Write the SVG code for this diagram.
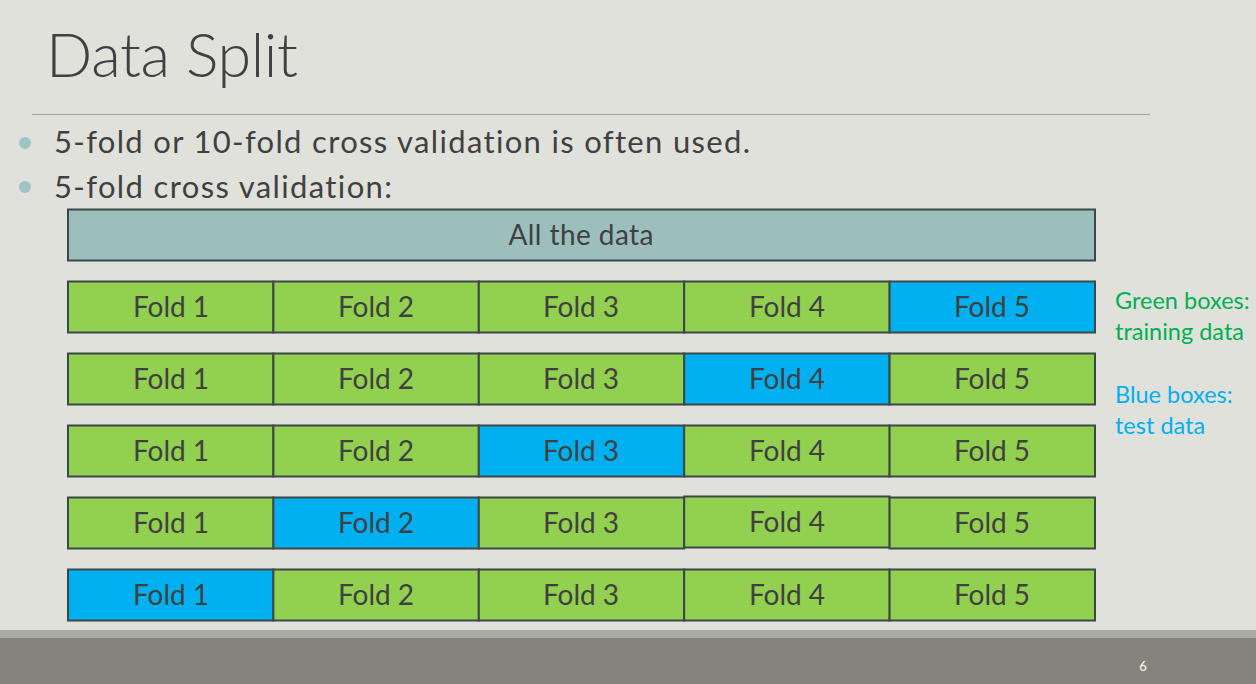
<svg xmlns="http://www.w3.org/2000/svg" width="1256" height="684" viewBox="0 0 1256 684">
<style>
text{font-variant-ligatures:none}
.t{font-family:Lato,"Open Sans","Noto Sans",sans-serif;fill:#404040}
.b{stroke:#3c4848;stroke-width:2}
.g{fill:#92d050}
.u{fill:#00b0f0}
.f{font-size:28px;text-anchor:middle}
</style>
<rect width="1256" height="684" fill="#e1e1dc"/>
<rect x="0" y="630" width="1256" height="8" fill="#aaaba5"/>
<rect x="0" y="638" width="1256" height="46" fill="#84847a"/>
<text x="1143" y="671" font-family="Lato,sans-serif" font-size="13" fill="#ffffff" text-anchor="middle">6</text>
<g id="title"><text class="t" x="46" y="77" font-size="61" font-weight="300" textLength="252">Data Split</text></g>
<line x1="32" y1="114.5" x2="1150" y2="114.5" stroke="#a2a39e" stroke-width="1.2"/>
<g id="bullets">
<circle cx="25" cy="143" r="6" fill="#9ec4c4"/>
<circle cx="25" cy="187" r="6" fill="#9ec4c4"/>
<text class="t" x="54" y="153" font-size="31" textLength="696">5-fold or 10-fold cross validation is often used.</text>
<text class="t" x="54" y="198" font-size="31" textLength="338">5-fold cross validation:</text>
</g>
<g id="all-data">
<rect class="b" x="68" y="209.5" width="1027" height="51" fill="#9cbfbd"/>
<text class="t f" x="581" y="245" font-size="28.5" textLength="145">All the data</text>
</g>
<g id="row1">
<rect class="b g" x="68" y="281.5" width="205.4" height="51"/>
<rect class="b g" x="273.4" y="281.5" width="205.4" height="51"/>
<rect class="b g" x="478.8" y="281.5" width="205.4" height="51"/>
<rect class="b g" x="684.2" y="281.5" width="205.4" height="51"/>
<rect class="b u" x="889.6" y="281.5" width="205.4" height="51"/>
<text class="t f" x="171" y="317">Fold 1</text><text class="t f" x="376" y="317">Fold 2</text><text class="t f" x="581" y="317">Fold 3</text><text class="t f" x="787" y="317">Fold 4</text><text class="t f" x="992" y="317">Fold 5</text>
</g>
<g id="row2">
<rect class="b g" x="68" y="353.5" width="205.4" height="51"/>
<rect class="b g" x="273.4" y="353.5" width="205.4" height="51"/>
<rect class="b g" x="478.8" y="353.5" width="205.4" height="51"/>
<rect class="b u" x="684.2" y="353.5" width="205.4" height="51"/>
<rect class="b g" x="889.6" y="353.5" width="205.4" height="51"/>
<text class="t f" x="171" y="389">Fold 1</text><text class="t f" x="376" y="389">Fold 2</text><text class="t f" x="581" y="389">Fold 3</text><text class="t f" x="787" y="389">Fold 4</text><text class="t f" x="992" y="389">Fold 5</text>
</g>
<g id="row3">
<rect class="b g" x="68" y="425.5" width="205.4" height="51"/>
<rect class="b g" x="273.4" y="425.5" width="205.4" height="51"/>
<rect class="b u" x="478.8" y="425.5" width="205.4" height="51"/>
<rect class="b g" x="684.2" y="425.5" width="205.4" height="51"/>
<rect class="b g" x="889.6" y="425.5" width="205.4" height="51"/>
<text class="t f" x="171" y="461">Fold 1</text><text class="t f" x="376" y="461">Fold 2</text><text class="t f" x="581" y="461">Fold 3</text><text class="t f" x="787" y="461">Fold 4</text><text class="t f" x="992" y="461">Fold 5</text>
</g>
<g id="row4">
<rect class="b g" x="68" y="497.5" width="205.4" height="51"/>
<rect class="b u" x="273.4" y="497.5" width="205.4" height="51"/>
<rect class="b g" x="478.8" y="497.5" width="205.4" height="51"/>
<rect class="b g" x="684.2" y="496.5" width="205.4" height="51"/>
<rect class="b g" x="889.6" y="497.5" width="205.4" height="51"/>
<text class="t f" x="171" y="533">Fold 1</text><text class="t f" x="376" y="533">Fold 2</text><text class="t f" x="581" y="533">Fold 3</text><text class="t f" x="787" y="532">Fold 4</text><text class="t f" x="992" y="533">Fold 5</text>
</g>
<g id="row5">
<rect class="b u" x="68" y="569.5" width="205.4" height="51"/>
<rect class="b g" x="273.4" y="569.5" width="205.4" height="51"/>
<rect class="b g" x="478.8" y="569.5" width="205.4" height="51"/>
<rect class="b g" x="684.2" y="569.5" width="205.4" height="51"/>
<rect class="b g" x="889.6" y="569.5" width="205.4" height="51"/>
<text class="t f" x="171" y="605">Fold 1</text><text class="t f" x="376" y="605">Fold 2</text><text class="t f" x="581" y="605">Fold 3</text><text class="t f" x="787" y="605">Fold 4</text><text class="t f" x="992" y="605">Fold 5</text>
</g>
<g id="legend" font-family="Lato,'Open Sans',sans-serif" font-size="23.5">
<text x="1115" y="309" fill="#00b050">Green boxes:</text>
<text x="1115" y="340" fill="#00b050">training data</text>
<text x="1115" y="403" fill="#00b0f0">Blue boxes:</text>
<text x="1115" y="434" fill="#00b0f0">test data</text>
</g>
<g id="connectors"></g>
</svg>
